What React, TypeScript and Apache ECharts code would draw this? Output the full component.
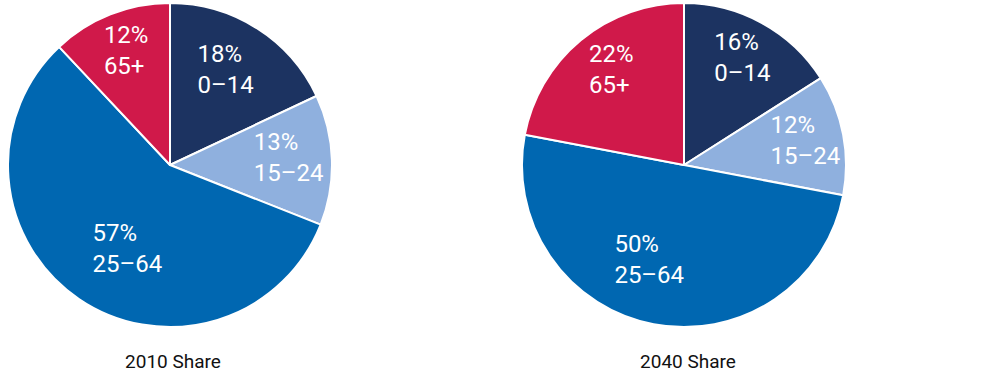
import React, { useEffect, useRef } from "react";
import * as echarts from "echarts";

const ageGroups = ["0–14", "15–24", "25–64", "65+"];
const share2010 = [18, 13, 57, 12];
const share2040 = [16, 12, 50, 22];
const pieTitles = ["2010 Share", "2040 Share"];
const colors = ["#1c3361", "#8fb0de", "#0067b1", "#d0194a"];

// layout: label block distance from the pie centre (px) and angular nudge (deg)
const labelRadius2010 = [109, 112, 93, 117];
const labelNudge2010 = [-0.9, -1.8, -5.4, 4.7];
const labelRadius2040 = [121, 117, 99, 112];
const labelNudge2040 = [0.8, -1.1, 11.8, 5.9];
const PIE_R = 162;

function labelShift(values: number[], radii: number[], nudges: number[], idx: number) {
  const total = values.reduce((a, b) => a + b, 0);
  let cum = 0;
  for (let i = 0; i < idx; i++) cum += values[i];
  const mid = ((cum + values[idx] / 2) / total) * Math.PI * 2;
  const target = mid + (nudges[idx] * Math.PI) / 180;
  const r0 = PIE_R / 2;
  const r1 = radii[idx];
  return {
    dx: r1 * Math.sin(target) - r0 * Math.sin(mid),
    dy: -r1 * Math.cos(target) + r0 * Math.cos(mid),
  };
}

function pieSeries(values: number[], radii: number[], nudges: number[], center: [number, number]) {
  return {
    type: "pie",
    center,
    radius: [0, PIE_R],
    startAngle: 90,
    clockwise: true,
    silent: true,
    labelLine: { show: false },
    itemStyle: { borderColor: "#ffffff", borderWidth: 2 },
    label: {
      show: true,
      position: "inside",
      formatter: (p: any) => `{a|${p.value}%}\n{a|${p.name}}`,
      rich: {
        a: {
          color: "#ffffff",
          fontFamily: "Roboto, sans-serif",
          fontSize: 24,
          lineHeight: 31,
          width: 62,
          align: "left",
        },
      },
    },
    labelLayout: (params: any) => labelShift(values, radii, nudges, params.dataIndex),
    data: values.map((v, i) => ({
      name: ageGroups[i],
      value: v,
      itemStyle: { color: colors[i] },
    })),
  };
}

export default function App() {
  const ref = useRef<HTMLDivElement>(null);
  useEffect(() => {
    document.body.style.margin = "0";
    const chart = echarts.init(ref.current!, undefined, { renderer: "svg" });
    const titleStyle = {
      fontFamily: "Roboto, sans-serif",
      fontSize: 19,
      fontWeight: "normal",
      color: "#111111",
    };
    chart.setOption({
      animation: false,
      backgroundColor: "#ffffff",
      title: [
        { text: pieTitles[0], left: 168, top: 347, textAlign: "center", textStyle: titleStyle },
        { text: pieTitles[1], left: 683, top: 347, textAlign: "center", textStyle: titleStyle },
      ],
      series: [
        pieSeries(share2010, labelRadius2010, labelNudge2010, [170, 165]),
        pieSeries(share2040, labelRadius2040, labelNudge2040, [684, 165]),
      ],
    });
    return () => chart.dispose();
  }, []);
  return <div ref={ref} style={{ width: 1000, height: 376 }} />;
}
